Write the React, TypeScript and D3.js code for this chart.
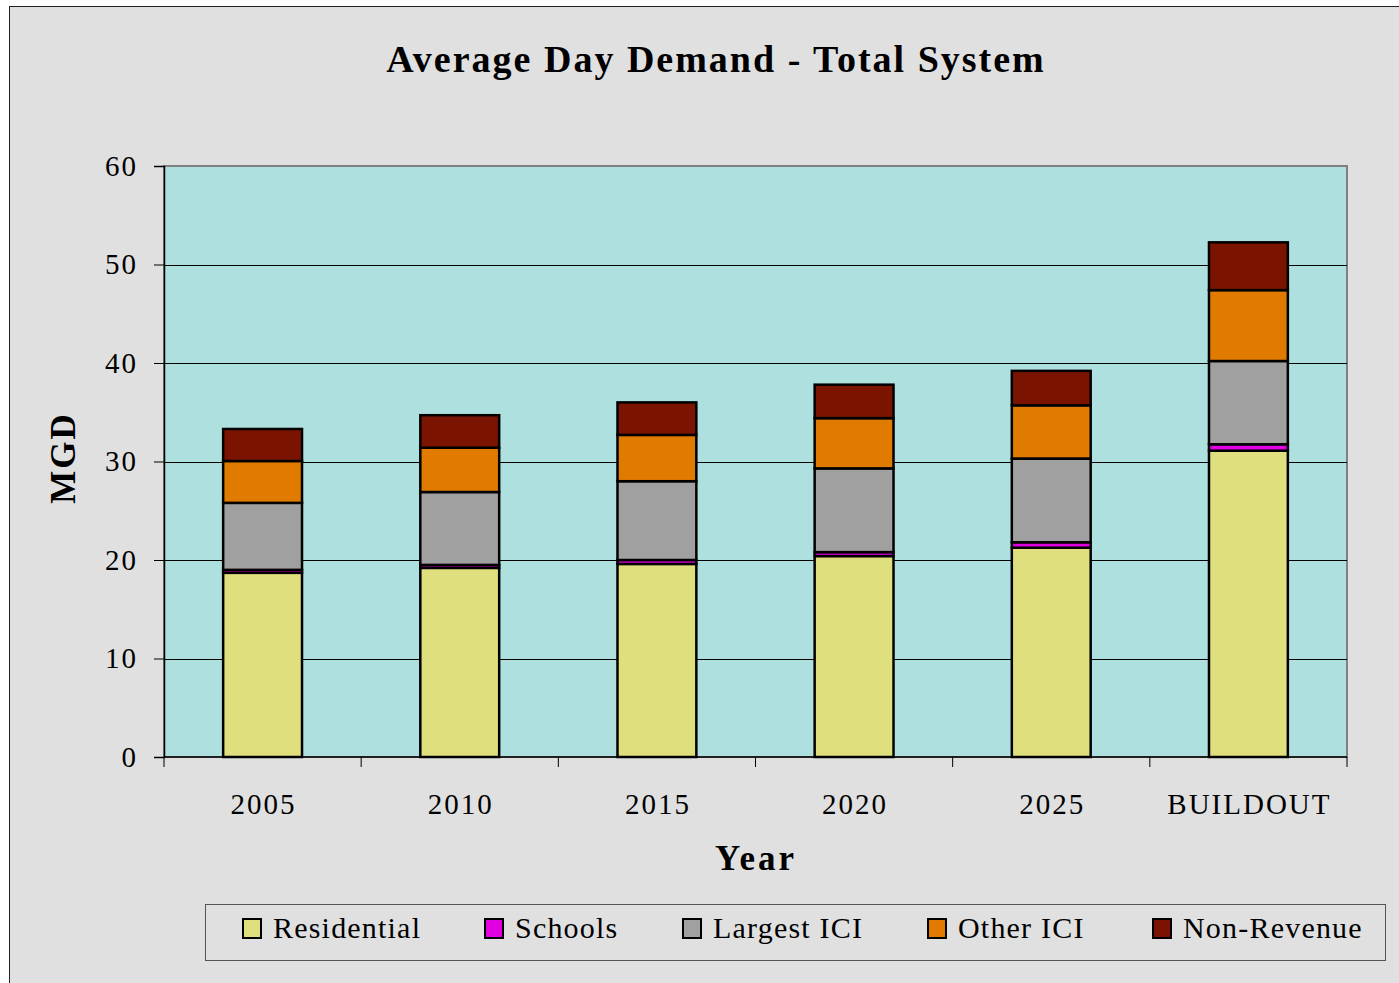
import React, {useRef, useEffect} from 'react'
import * as d3 from 'd3'

const years = ['2005', '2010', '2015', '2020', '2025', 'BUILDOUT']
const seriesNames = ['Residential', 'Schools', 'Largest ICI', 'Other ICI', 'Non-Revenue']
const residential = [18.7, 19.2, 19.6, 20.4, 21.25, 31.1]
const schools = [0.3, 0.3, 0.4, 0.4, 0.55, 0.65]
const largestICI = [6.8, 7.4, 8.0, 8.5, 8.5, 8.45]
const otherICI = [4.25, 4.5, 4.7, 5.1, 5.4, 7.2]
const nonRevenue = [3.25, 3.3, 3.3, 3.4, 3.5, 4.85]
const yTicks = [0, 10, 20, 30, 40, 50, 60]
const colors = ['#DFDF7E', '#E000E0', '#A0A0A0', '#E07B00', '#7A1400']

const serif = '"Liberation Serif", "Times New Roman", serif'

function App() {
  const ref = useRef<SVGGElement>(null)

  useEffect(() => {
    const root = d3.select(ref.current)
    root.selectAll('*').remove()

    const left = 164
    const right = 1347
    const top = 166
    const bottom = 757

    const table = years.map((y, i) => ({
      year: y,
      Residential: residential[i],
      Schools: schools[i],
      'Largest ICI': largestICI[i],
      'Other ICI': otherICI[i],
      'Non-Revenue': nonRevenue[i]
    }))
    const stacked = d3.stack<any>().keys(seriesNames)(table)

    const x = d3.scaleBand().domain(years).range([left, right]).paddingInner(0.6).paddingOuter(0.3)
    const y = d3.scaleLinear().domain([0, 60]).range([bottom, top])

    // outer chart frame
    root
      .append('rect')
      .attr('x', 9.5)
      .attr('y', 6.5)
      .attr('width', 1420)
      .attr('height', 1000)
      .attr('fill', '#E0E0E0')
      .attr('stroke', '#222')
      .attr('stroke-width', 1)

    root
      .append('text')
      .attr('x', 716)
      .attr('y', 72)
      .attr('text-anchor', 'middle')
      .style('font-family', serif)
      .style('font-weight', 'bold')
      .style('font-size', '38px')
      .style('letter-spacing', '2px')
      .text('Average Day Demand - Total System')

    // plot area
    root
      .append('rect')
      .attr('x', left)
      .attr('y', top)
      .attr('width', right - left)
      .attr('height', bottom - top)
      .attr('fill', '#AEE0E0')
      .attr('stroke', '#808080')
      .attr('stroke-width', 2)

    root
      .append('g')
      .selectAll('line')
      .data(yTicks.filter(t => t > 0 && t < 60))
      .join('line')
      .attr('x1', left)
      .attr('x2', right)
      .attr('y1', d => Math.round(y(d)) + 0.5)
      .attr('y2', d => Math.round(y(d)) + 0.5)
      .attr('stroke', '#000')
      .attr('stroke-width', 1)

    // bars
    root
      .append('g')
      .selectAll('g')
      .data(stacked)
      .join('g')
      .attr('fill', (d, i) => colors[i])
      .selectAll('rect')
      .data(d => d.map(p => ({p, year: p.data.year})))
      .join('rect')
      .attr('x', d => x(d.year)!)
      .attr('width', x.bandwidth())
      .attr('y', d => y(d.p[1]))
      .attr('height', d => y(d.p[0]) - y(d.p[1]))
      .attr('stroke', '#000')
      .attr('stroke-width', 2.5)

    // y axis
    const yAxis = root
      .append('g')
      .attr('transform', `translate(${left}, 0)`)
      .call(d3.axisLeft(y).tickValues(yTicks).tickSize(10).tickPadding(16))
    yAxis.select('.domain').attr('stroke', '#000').attr('stroke-width', 1.5)
    yAxis.selectAll('.tick line').attr('stroke', '#000')
    yAxis
      .selectAll('text')
      .attr('fill', '#000')
      .style('font-family', serif)
      .style('font-size', '29px')
      .style('letter-spacing', '2px')

    // x axis
    const xAxis = root.append('g').attr('transform', `translate(0, ${bottom})`)
    xAxis
      .append('line')
      .attr('x1', left)
      .attr('x2', right)
      .attr('stroke', '#000')
      .attr('stroke-width', 1.5)
    const step = (right - left) / years.length
    xAxis
      .selectAll('line.tk')
      .data(d3.range(years.length + 1))
      .join('line')
      .attr('class', 'tk')
      .attr('x1', i => left + i * step)
      .attr('x2', i => left + i * step)
      .attr('y1', 0)
      .attr('y2', 10)
      .attr('stroke', '#000')
    xAxis
      .selectAll('text')
      .data(years)
      .join('text')
      .attr('x', d => x(d)! + x.bandwidth() / 2 + 1)
      .attr('y', 57)
      .attr('text-anchor', 'middle')
      .style('font-family', serif)
      .style('font-size', '29px')
      .style('letter-spacing', '2px')
      .text(d => d)

    root
      .append('text')
      .attr('x', 756)
      .attr('y', 870)
      .attr('text-anchor', 'middle')
      .style('font-family', serif)
      .style('font-weight', 'bold')
      .style('font-size', '35px')
      .style('letter-spacing', '3px')
      .text('Year')

    root
      .append('text')
      .attr('transform', 'translate(75, 458) rotate(-90)')
      .attr('text-anchor', 'middle')
      .style('font-family', serif)
      .style('font-weight', 'bold')
      .style('font-size', '35px')
      .style('letter-spacing', '2px')
      .text('MGD')

    // legend
    const legend = root.append('g')
    legend
      .append('rect')
      .attr('x', 205.5)
      .attr('y', 904.5)
      .attr('width', 1180)
      .attr('height', 56)
      .attr('fill', '#E0E0E0')
      .attr('stroke', '#555')
      .attr('stroke-width', 1)
    const legendX = [243, 485, 683, 928, 1153]
    const item = legend
      .selectAll('g')
      .data(seriesNames)
      .join('g')
      .attr('transform', (d, i) => `translate(${legendX[i]}, 919)`)
    item
      .append('rect')
      .attr('width', 18)
      .attr('height', 19)
      .attr('fill', (d, i) => colors[i])
      .attr('stroke', '#000')
      .attr('stroke-width', 2)
    item
      .append('text')
      .attr('x', 30)
      .attr('y', 19)
      .style('font-family', serif)
      .style('font-size', '30px')
      .style('letter-spacing', '1.2px')
      .text(d => d)
  }, [])

  return (
    <svg width={1399} height={983} style={{position: 'absolute', left: 0, top: 0}}>
      <g ref={ref} />
    </svg>
  )
}

export default App
